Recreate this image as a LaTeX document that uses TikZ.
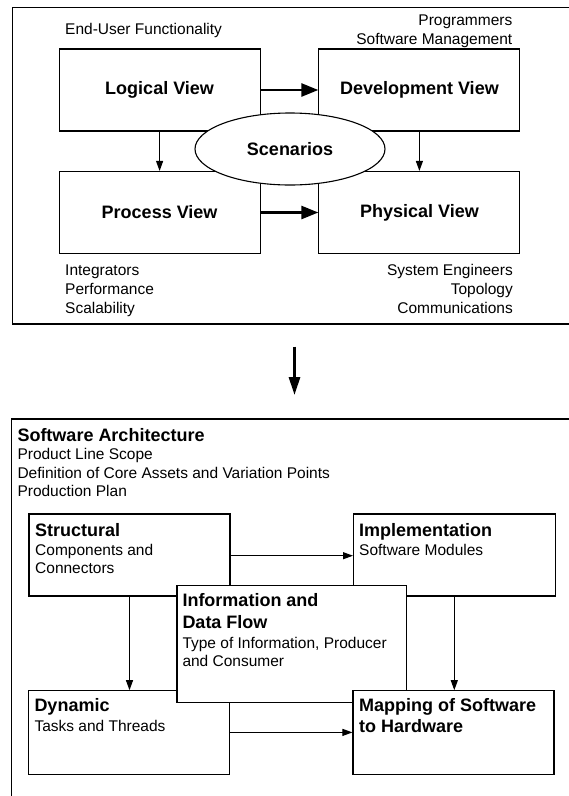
\documentclass[tikz,border=0pt]{standalone}
\usepackage{fontspec}
\setmainfont{Liberation Sans}
\usetikzlibrary{shapes.geometric,arrows.meta}

\begin{document}
\begin{tikzpicture}[x=1pt,y=-1pt,
  frame/.style={draw=black, line width=1.1pt},
  viewbox/.style={draw=black, line width=1.1pt, fill=white, inner sep=0pt,
    minimum width=201pt, minimum height=82pt,
    font=\bfseries\fontsize{18}{21}\selectfont},
  cardbox/.style={draw=black, line width=1.1pt, fill=white, inner sep=0pt},
  lbl/.style={inner sep=0pt, anchor=base west, font=\fontsize{15.5}{19}\selectfont},
  lblr/.style={lbl, anchor=base east},
  title/.style={lbl, font=\bfseries\fontsize{18}{21}\selectfont},
  bigarrow/.style={draw=black, line width=2.6pt, -{Triangle[length=17pt,width=13pt]}},
  thinarrow/.style={draw=black, line width=1pt, -{Triangle[length=10pt,width=7pt]}}]

\useasboundingbox (0,0) rectangle (569,796);

% ---- 4+1 view model ----
\draw[frame] (569,7.3) -- (12.3,7.3) -- (12.3,324) -- (569,324);

\node[lbl]  (enduser) at (65,34)    {End-User Functionality};
\node[lblr] (prog)    at (512.5,25) {Programmers};
\node[lblr] (swmgmt)  at (512.5,44) {Software Management};

\node[viewbox] (logical)     at (159.6,90)    {Logical View};
\node[viewbox] (development) at (419.4,90)    {Development View};
\node[viewbox] (process)     at (159.6,212.5) {Process View};
\node[viewbox] (physical)    at (419.4,212.5) {Physical View};

\draw[bigarrow]  (logical) -- (development);
\draw[bigarrow]  (process) -- (physical);
\draw[thinarrow] (logical) -- (process);
\draw[thinarrow] (development) -- (physical);

\node[ellipse, draw=black, line width=1.1pt, fill=white, inner sep=0pt,
      minimum width=190pt, minimum height=72pt,
      font=\bfseries\fontsize{18}{21}\selectfont] (scenarios) at (290,149) {Scenarios};

\node[lbl] (integ) at (65,275) {Integrators};
\node[lbl] (perf)  at (65,294) {Performance};
\node[lbl] (scal)  at (65,313) {Scalability};

\node[lblr] (syseng) at (513,275) {System Engineers};
\node[lblr] (topo)   at (513,294) {Topology};
\node[lblr] (comm)   at (513,313) {Communications};

% ---- transition ----
\coordinate (flowtop) at (294.5,346.7);
\coordinate (flowtip) at (294.5,395);
\draw[draw=black, line width=3pt, -{Triangle[length=18pt,width=11pt]}] (flowtop) -- (flowtip);

% ---- software architecture ----
\draw[frame] (569,419) -- (11.5,419) -- (11.5,796);

\node[title] (swarch) at (17.3,441)   {Software Architecture};
\node[lbl]   (scope)  at (17.3,459.5) {Product Line Scope};
\node[lbl]   (assets) at (17.3,478)   {Definition of Core Assets and Variation Points};
\node[lbl]   (plan)   at (17.3,496.5) {Production Plan};

\node[cardbox, minimum width=201pt, minimum height=82pt] (struct) at (129.5,555) {};
\node[title] (structT) at (35,536)   {Structural};
\node[lbl]   (structA) at (35,555)   {Components and};
\node[lbl]   (structB) at (35,573.5) {Connectors};

\node[cardbox, minimum width=201.5pt, minimum height=82pt] (impl) at (454.3,555) {};
\node[title] (implT) at (359,536) {Implementation};
\node[lbl]   (implA) at (359,555) {Software Modules};

\node[cardbox, minimum width=201pt, minimum height=83.3pt] (dyn) at (128.9,732.4) {};
\node[title] (dynT) at (34.3,711.7) {Dynamic};
\node[lbl]   (dynA) at (34.3,731.7) {Tasks and Threads};

\node[cardbox, minimum width=229.6pt, minimum height=116.6pt] (info) at (291.8,644) {};
\node[title] (infoT) at (182.3,606)   {Information and};
\node[title] (infoU) at (182.3,628)   {Data Flow};
\node[lbl]   (infoA) at (182.3,648)   {Type of Information, Producer};
\node[lbl]   (infoB) at (182.3,666.7) {and Consumer};

\node[cardbox, minimum width=201pt, minimum height=83.3pt] (map) at (453.5,732.4) {};
\node[title] (mapT) at (359,711.7) {Mapping of Software};
\node[title] (mapU) at (359,732.5) {to Hardware};

\draw[thinarrow] (struct.east |- 0,555.7) -- (impl.west |- 0,555.7);
\draw[thinarrow] (dyn) -- (map);
\draw[thinarrow] (struct.south) -- (struct.south |- dyn.north);
\draw[thinarrow] (impl.south) -- (impl.south |- map.north);

\end{tikzpicture}
\end{document}
